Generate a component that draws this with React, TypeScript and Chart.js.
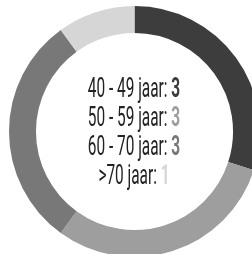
import React, { useEffect, useRef } from "react";
import { Chart, registerables } from "chart.js";

Chart.register(...registerables);

const categories = ["40 - 49 jaar", "50 - 59 jaar", "60 - 70 jaar", ">70 jaar"];
const values = [3, 3, 3, 1];
const colors = ["#3d3d3d", "#9e9e9e", "#787878", "#d6d6d6"];

export default function App() {
  const ref = useRef<HTMLCanvasElement>(null);
  useEffect(() => {
    document.body.style.overflow = "hidden";
    const chart = new Chart(ref.current!, {
      type: "doughnut",
      data: {
        labels: categories,
        datasets: [{ data: values, backgroundColor: colors, borderWidth: 0 }],
      },
      options: {
        animation: false,
        responsive: false,
        cutout: "78.5%",
        layout: { padding: 0 },
        plugins: { legend: { display: false }, tooltip: { enabled: false } },
      },
    });
    return () => chart.destroy();
  }, []);
  return (
    <div style={{ position: "fixed", left: 0, top: 0, width: 252, height: 254, overflow: "hidden", background: "#fff" }}>
      <canvas ref={ref} width={251} height={251} style={{ position: "absolute", left: 9, top: 6, width: 251, height: 251 }} />
      <div
        style={{
          position: "absolute",
          left: 34,
          width: 200,
          top: 73.5,
          textAlign: "center",
          fontFamily: "Roboto",
          fontWeight: 400,
          fontSize: 27,
          lineHeight: "29px",
          color: "#222",
          transform: "scaleX(0.57)",
          transformOrigin: "center",
        }}
      >
        {categories.map((c, i) => (
          <div key={c} style={{ whiteSpace: "nowrap" }}>
            {c}: <span style={{ fontWeight: 700, color: colors[i] }}>{values[i]}</span>
          </div>
        ))}
      </div>
    </div>
  );
}
